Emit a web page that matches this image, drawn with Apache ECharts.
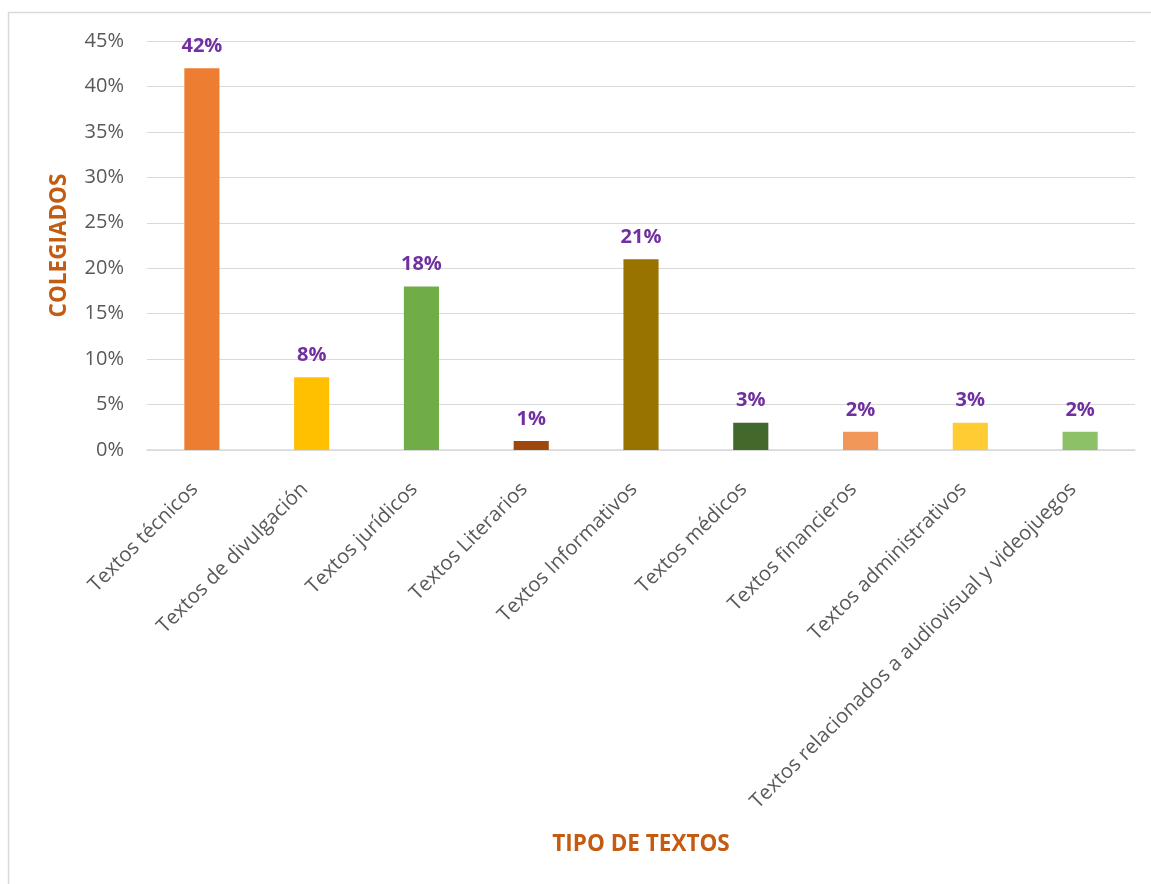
<!DOCTYPE html>
<html>
<head>
<meta charset="utf-8">
<script src="https://cdn.jsdelivr.net/npm/echarts@6/dist/echarts.min.js"></script>
<style>
  html, body { margin: 0; padding: 0; background: #fff; }
  #chart { width: 1151px; height: 884px; }
</style>
</head>
<body>
<div id="chart"></div>
<script>
// Tipos de texto traducidos por los colegiados (porcentaje)
const categories = [
  'Textos técnicos',
  'Textos de divulgación',
  'Textos jurídicos',
  'Textos Literarios',
  'Textos Informativos',
  'Textos médicos',
  'Textos financieros',
  'Textos administrativos',
  'Textos relacionados a audiovisual y videojuegos'
];
const values = [42, 8, 18, 1, 21, 3, 2, 3, 2];
const barColors = ['#ED7D31', '#FFC000', '#70AD47', '#9E480E', '#997300', '#43682B', '#F1975A', '#FFCD33', '#8CC168'];
const yTicks = [0, 5, 10, 15, 20, 25, 30, 35, 40, 45];

const FONT = '"Open Sans", "DejaVu Sans", sans-serif';

const chart = echarts.init(document.getElementById('chart'), null, { renderer: 'canvas' });

chart.setOption({
  backgroundColor: '#ffffff',
  animation: false,
  graphic: [{
    type: 'rect',
    shape: { x: 8.5, y: 12.5, width: 1300, height: 1000 },
    style: { fill: 'none', stroke: '#D9D9D9', lineWidth: 1.5 },
    silent: true
  }],
  grid: { left: 147, right: 16, top: 41, bottom: 434, containLabel: false },
  xAxis: {
    type: 'category',
    data: categories,
    name: 'TIPO DE TEXTOS',
    nameLocation: 'middle',
    nameGap: 383,
    nameTextStyle: { color: '#C55A11', fontWeight: 'bold', fontSize: 22.5, fontFamily: FONT },
    axisLine: { show: true, lineStyle: { color: '#D9D9D9', width: 1.5 } },
    axisTick: { show: false },
    axisLabel: {
      rotate: 45,
      interval: 0,
      margin: 29,
      padding: [0, 10, 0, 0],
      color: '#595959',
      fontSize: 20.3,
      fontFamily: FONT
    }
  },
  yAxis: {
    type: 'value',
    min: yTicks[0],
    max: yTicks[yTicks.length - 1],
    interval: 5,
    name: 'COLEGIADOS',
    nameLocation: 'middle',
    nameGap: 76,
    nameRotate: 90,
    nameTextStyle: { color: '#C55A11', fontWeight: 'bold', fontSize: 22.5, fontFamily: FONT },
    axisLine: { show: false },
    axisTick: { show: false },
    splitLine: { lineStyle: { color: '#D9D9D9', width: 1.2 } },
    axisLabel: {
      formatter: '{value}%',
      margin: 23,
      padding: [5, 0, 0, 0],
      color: '#595959',
      fontSize: 20,
      fontFamily: FONT
    }
  },
  series: [{
    type: 'bar',
    barWidth: '32%',
    data: values.map((v, i) => ({ value: v, itemStyle: { color: barColors[i] } })),
    label: {
      show: true,
      position: 'top',
      distance: 12,
      formatter: p => p.value + '%',
      color: '#7030A0',
      fontWeight: 'bold',
      fontSize: 20,
      fontFamily: FONT
    }
  }]
});
</script>
</body>
</html>
